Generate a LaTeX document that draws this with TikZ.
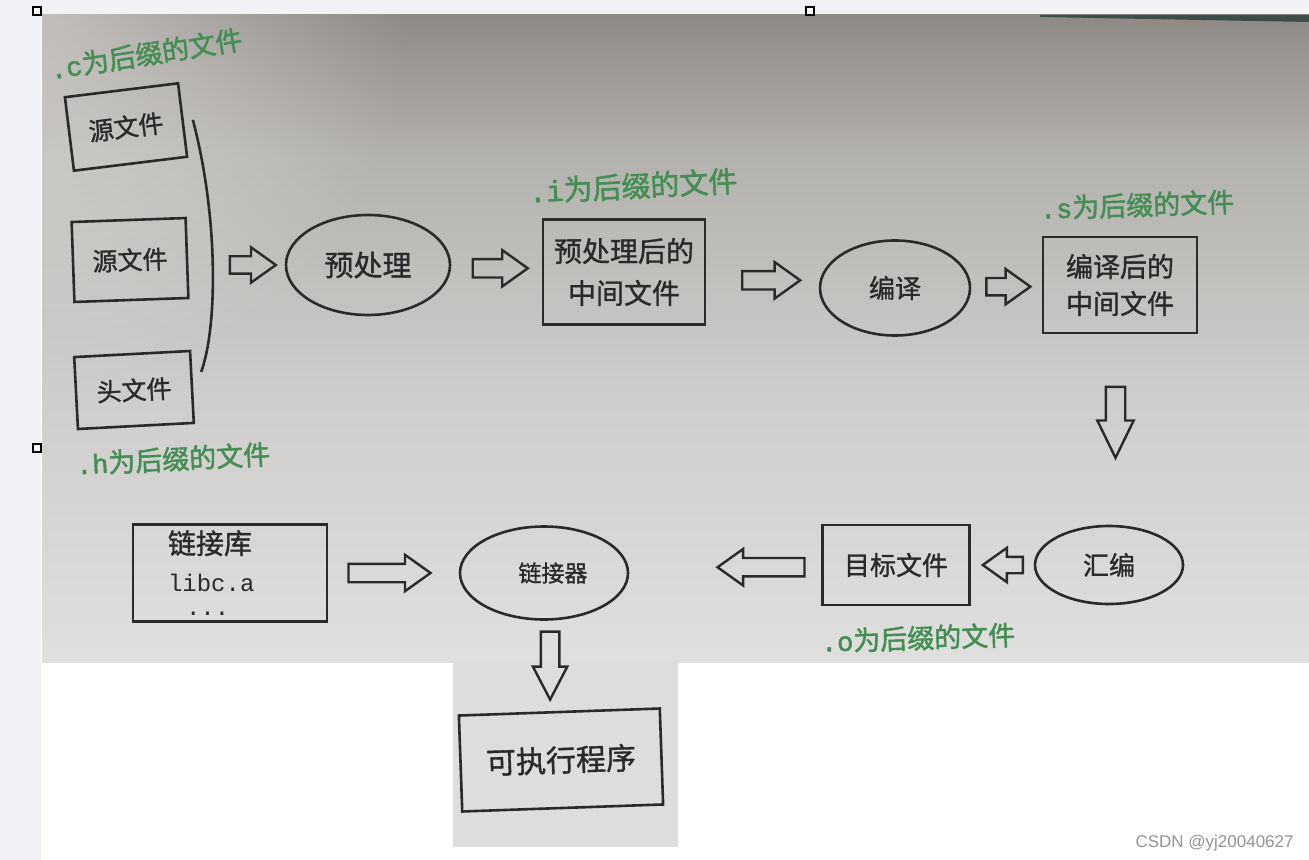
\documentclass[tikz,border=0pt]{standalone}
\usepackage{fontspec}
\setmainfont{Liberation Serif}
\newfontfamily\cjk[FakeBold=1.2]{Noto Sans CJK SC}
\newfontfamily\cjkg[FakeBold=1.8]{Noto Sans CJK SC}
\newfontfamily\monof{Liberation Mono}
\newfontfamily\monog[FakeBold=1.8]{Liberation Mono}
\newfontfamily\wmfont{Liberation Sans}
\usetikzlibrary{shapes.geometric,shapes.arrows,calc,fadings}
\definecolor{ink}{RGB}{42,42,42}
\definecolor{lbl}{RGB}{68,142,84}
\definecolor{strip}{RGB}{241,241,246}
\definecolor{ptop}{RGB}{142,137,133}
\definecolor{pup}{RGB}{180,178,174}
\definecolor{pmid}{RGB}{207,206,205}
\definecolor{pbot}{RGB}{223,223,222}
\definecolor{ppatch}{RGB}{221,221,220}
\definecolor{edge}{RGB}{60,76,70}
\pgfdeclareverticalshading{photoshade}{100bp}{color(0bp)=(pbot); color(25bp)=(pbot); color(45bp)=(pmid); color(64bp)=(pup); color(75bp)=(ptop); color(100bp)=(ptop)}
\tikzfading[name=tlfade, inner color=transparent!0, outer color=transparent!100]
\newcommand\fsz[2]{\fontsize{#1pt}{#2pt}\selectfont}
\newcommand\shaft[1]{\rule{0pt}{#1}}
\newcommand\sfx[1]{{\monog #1}}
\begin{document}
\begin{tikzpicture}[x=0.5pt,y=-0.5pt,
  box/.style={draw=ink, line width=1.3pt, rectangle, inner sep=0pt, text=ink},
  oval/.style={draw=ink, line width=1.3pt, ellipse, inner sep=0pt, text=ink},
  suffix/.style={text=lbl, font=\cjkg\fsz{13.5}{15}, inner sep=0pt},
  fatarrow/.style={single arrow, draw=ink, line width=1.2pt, inner sep=0pt, outer sep=0pt,
    single arrow head extend=4.5pt, single arrow tip angle=71},
  handle/.style={draw=black, fill=white, line width=0.6pt}
]
\useasboundingbox (0,0) rectangle (1309,860);
% backgrounds
\fill[white] (0,0) rectangle (1309,860);
\fill[strip] (0,0) rectangle (1309,15);
\fill[strip] (0,0) rectangle (41,860);
\shade[shading=photoshade] (42,15) rectangle (1309,662);
\begin{scope}
  \clip (42,15) rectangle (1309,662);
  \fill[white, fill opacity=0.45, path fading=tlfade] (-330,-360) rectangle (410,390);
\end{scope}
\fill[ppatch] (453,661) rectangle (678,847);
\fill[edge] (1040,15) -- (1309,15) -- (1309,22) -- (1040,17) -- cycle;
% handles
\draw[handle] (33,7) rectangle (41,15);
\draw[handle] (806,7) rectangle (814,15);
\draw[handle] (33,444) rectangle (41,452);

% input files
\node[box, rotate=7, minimum width=57pt, minimum height=37pt, font=\cjk\fsz{12.5}{14}] (s1) at (126,127) {源文件};
\node[box, rotate=2, minimum width=57pt, minimum height=40pt, font=\cjk\fsz{12.5}{14}] (s2) at (130,260) {源文件};
\node[box, rotate=3, minimum width=58pt, minimum height=36pt, font=\cjk\fsz{12.5}{14}] (h) at (134,390) {头文件};
\node[suffix, rotate=9] (lc) at (146,54) {\sfx{.c}为后缀的文件};
\node[suffix, rotate=3] (lh) at (173,459) {\sfx{.h}为后缀的文件};

% brace joining the inputs
\coordinate (bt) at ($(s1.east)+(9,0)$);
\coordinate (bm) at (213,265);
\coordinate (bb) at ($(h.east)+(8,-15)$);
\draw[ink, line width=1.3pt] (bt) .. controls (218,215) and (218,325) .. (bb);

% main chain
\node[oval, minimum width=82pt, minimum height=50pt, font=\cjk\fsz{14.5}{16}] (pp) at (368,265) {预处理};
\node[box, minimum width=81pt, minimum height=52.5pt, align=center, font=\cjk\fsz{14}{21}] (mid) at (624,272) {预处理后的\\中间文件};
\node[suffix, rotate=3, font=\cjkg\fsz{14.5}{16}] (li) at (633,186) {\sfx{.i}为后缀的文件};
\node[oval, minimum width=75pt, minimum height=47.5pt, font=\cjk\fsz{13}{15}] (comp) at (895,288) {编译};
\node[box, minimum width=77pt, minimum height=48pt, align=center, font=\cjk\fsz{13.5}{18.5}] (asmf) at (1120,285) {编译后的\\中间文件};
\node[suffix, rotate=2] (ls) at (1137,205) {\sfx{.s}为后缀的文件};
\node[oval, minimum width=74pt, minimum height=39pt, font=\cjk\fsz{13}{15}] (asm) at (1109,565) {汇编};
\node[box, minimum width=73.5pt, minimum height=40pt, font=\cjk\fsz{13}{15}] (obj) at (896,565) {目标文件};
\node[suffix, rotate=2] (lo) at (918,638) {\sfx{.o}为后缀的文件};
\node[oval, minimum width=84pt, minimum height=46.5pt, font=\cjk\fsz{11.5}{13}] (ld) at (544,573) {\hspace*{9pt}链接器};
\node[box, minimum height=48.5pt, text width=62pt, inner xsep=17.5pt, align=left, font=\fsz{12}{19}] (lib) at (230,573)
  {{\cjk\fsz{14}{19}链接库}\\{\monof libc.a}\\[-7pt]{\monof\hspace{9pt}...}};
\node[box, rotate=2, minimum width=100.5pt, minimum height=48pt, font=\cjk\fsz{15}{17}] (exe) at (561,760) {可执行程序};

% hollow block arrows
\node[fatarrow, minimum height=23pt] (a1) at ($(bm)!0.47!(pp.west)$) {\shaft{7.5pt}};
\node[fatarrow, minimum height=27.5pt] (a2) at ($(pp.east)!0.47!(mid.west)$) {\shaft{8pt}};
\node[fatarrow, minimum height=29pt] (a3) at ($(mid.east)!0.52!(comp.west)$) {\shaft{8pt}};
\node[fatarrow, minimum height=22pt, single arrow head extend=4.5pt] (a4) at ($(comp.east)!0.44!(asmf.west)$) {\shaft{7.5pt}};
\node[fatarrow, rotate=-90, minimum height=35.5pt, single arrow tip angle=52, single arrow head extend=4.25pt] (a5) at ($(asmf.south)!0.41!(asm.north)$) {\shaft{8.5pt}};
\node[fatarrow, rotate=180, minimum height=20pt, single arrow head extend=4.5pt] (a6) at ($(asm.west)!0.40!(obj.east)$) {\shaft{7pt}};
\node[fatarrow, rotate=180, minimum height=43.5pt] (a7) at ($(obj.west)!0.28!(ld.east)$) {\shaft{8pt}};
\node[fatarrow, minimum height=41pt] (a8) at ($(lib.east)!0.42!(ld.west)$) {\shaft{8pt}};
\node[fatarrow, rotate=-90, minimum height=34pt, single arrow tip angle=55, single arrow head extend=4pt] (a9) at ($(ld.south)!0.40!(exe.north)$) {\shaft{8pt}};

% watermark
\node[font=\wmfont\fsz{8.5}{10}, text=black!42, anchor=east, inner sep=0pt] (wm) at (1294,843) {CSDN @yj20040627};
\end{tikzpicture}
\end{document}
